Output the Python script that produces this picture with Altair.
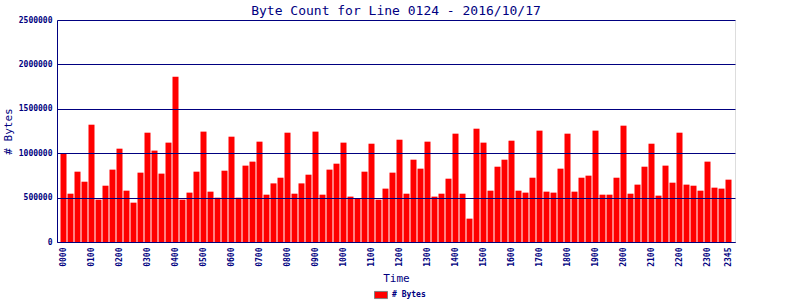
import altair as alt
import pandas as pd

NAVY = "#000080"
FONT = "DejaVu Sans Mono"

times = [f"{h:02d}{m:02d}" for h in range(24) for m in (0, 15, 30, 45)]
byte_counts = [
    1002000, 544000, 792000, 679000, 1321000, 477000, 634000, 815000,
    1051000, 578000, 443000, 781000, 1231000, 1029000, 770000, 1119000,
    1861000, 477000, 556000, 792000, 1243000, 567000, 499000, 803000,
    1186000, 499000, 860000, 905000, 1130000, 533000, 660000, 724000,
    1231000, 544000, 660000, 758000, 1243000, 533000, 815000, 882000,
    1119000, 511000, 488000, 792000, 1107000, 477000, 601000, 781000,
    1152000, 544000, 927000, 826000, 1130000, 511000, 544000, 713000,
    1220000, 544000, 263000, 1276000, 1119000, 578000, 848000, 927000,
    1141000, 578000, 556000, 724000, 1254000, 567000, 556000, 826000,
    1220000, 567000, 724000, 747000, 1254000, 533000, 533000, 724000,
    1310000, 544000, 646000, 848000, 1107000, 522000, 860000, 668000,
    1231000, 646000, 634000, 578000, 905000, 612000, 601000, 702000,
]
tick_labels = [t for t in times if t.endswith("00")] + ["2345"]
y_ticks = [0, 500000, 1000000, 1500000, 2000000, 2500000]
series_name = "# Bytes"

df = pd.DataFrame({"Time": times, "Bytes": byte_counts, "series": series_name})

chart = alt.Chart(df).mark_bar().encode(
    x=alt.X(
        "Time:N",
        sort=times,
        scale=alt.Scale(paddingInner=1 / 7, paddingOuter=0.5),
        axis=alt.Axis(
            values=tick_labels, labelAngle=270, ticks=False,
            labelFont=FONT, labelFontWeight="bold", labelFontSize=8,
            labelColor=NAVY, domainColor=NAVY, labelPadding=5,
            title="Time", titleFont=FONT, titleFontSize=11,
            titleFontWeight="normal", titleColor=NAVY,
            titleX=339, titleY=36, titleBaseline="middle",
        ),
    ),
    y=alt.Y(
        "Bytes:Q",
        scale=alt.Scale(domain=[0, 2500000], nice=False),
        axis=alt.Axis(
            values=y_ticks, format="d", grid=True, gridColor=NAVY,
            gridWidth=1, gridOpacity=1, ticks=False, zindex=1,
            labelFont=FONT, labelFontWeight="bold", labelFontSize=8,
            labelColor=NAVY, domainColor=NAVY, labelPadding=5,
            title="# Bytes", titleFont=FONT, titleFontSize=11,
            titleFontWeight="normal", titleColor=NAVY,
            titleX=-49, titleY=111, titleAngle=270,
            titleBaseline="middle", titleAlign="center",
        ),
    ),
    color=alt.Color(
        "series:N",
        scale=alt.Scale(domain=[series_name], range=["#ff0000"]),
        legend=alt.Legend(
            title=None, orient="none", legendX=317, legendY=268,
            symbolType="M-1,-0.55H1V0.55H-1Z", symbolSize=169,
            symbolStrokeColor="#808080", symbolStrokeWidth=1,
            symbolOpacity=1, labelFont=FONT, labelFontWeight="bold",
            labelFontSize=8, labelColor=NAVY, labelOffset=4, padding=0,
        ),
    ),
).properties(
    width=678,
    height=222,
    title=alt.TitleParams(
        "Byte Count for Line 0124 - 2016/10/17",
        font=FONT, fontSize=13, fontWeight="normal", color=NAVY,
        anchor="middle", offset=-2,
    ),
    padding={"left": 57, "top": 20, "right": 65, "bottom": 58},
    autosize="none",
).configure_view(
    stroke=NAVY, strokeWidth=1
).configure(background="white")

chart.save("out.html", embed_options={"renderer": "svg", "actions": False})
